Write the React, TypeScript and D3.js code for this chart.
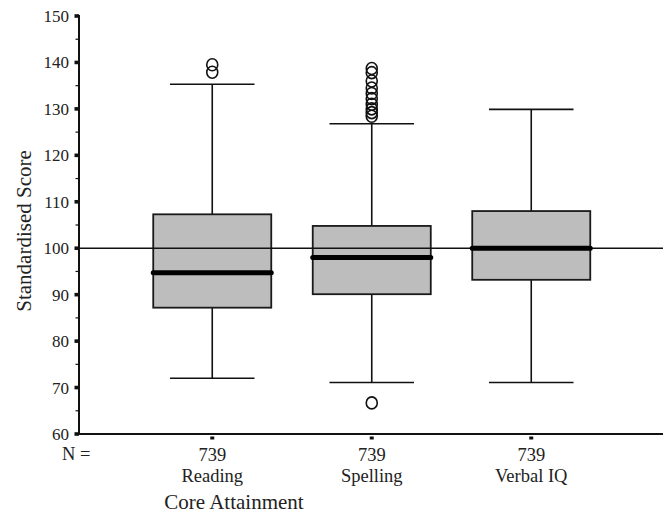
import React from "react";
import * as d3 from "d3";

const categories = ["Reading", "Spelling", "Verbal IQ"];
const counts = [739, 739, 739];
const q1 = [87.2, 90.1, 93.2];
const medians = [94.7, 98.0, 100.0];
const q3 = [107.3, 104.8, 108.0];
const whiskerLow = [72.0, 71.1, 71.1];
const whiskerHigh = [135.3, 126.8, 129.9];
const outliers: number[][] = [
  [137.9, 139.5],
  [66.7, 128.4, 129.2, 130.0, 131.0, 132.2, 133.3, 134.5, 136.0, 137.8, 138.7],
  [],
];
const yTicks = [60, 70, 80, 90, 100, 110, 120, 130, 140, 150];
const yMinorTicks = [65, 75, 85, 95, 105, 115, 125, 135, 145];
const referenceValue = 100;

const W = 666;
const H = 513;
const FONT = "'Liberation Serif', 'Times New Roman', serif";

export default function App() {
  const y = d3.scaleLinear().domain([60, 150]).range([434, 16]);
  const x = d3.scaleBand<string>().domain(categories).range([132.5, 611]);
  const bw = x.bandwidth();
  const boxW = bw * 0.74;
  const capW = bw * 0.53;
  const axisX = 79;
  const axisRight = 663;
  const axisY = y(60);

  return (
    <svg
      width={W}
      height={H}
      style={{ position: "absolute", left: 0, top: 0, background: "#fff" }}
      fontFamily={FONT}
    >
      {categories.map((c, i) => {
        const cx = (x(c) as number) + bw / 2;
        return (
          <g key={c}>
            {/* whiskers */}
            <line x1={cx} x2={cx} y1={y(q3[i])} y2={y(whiskerHigh[i])} stroke="#111" strokeWidth={1.6} />
            <line x1={cx} x2={cx} y1={y(q1[i])} y2={y(whiskerLow[i])} stroke="#111" strokeWidth={1.6} />
            <line x1={cx - capW / 2} x2={cx + capW / 2} y1={y(whiskerHigh[i])} y2={y(whiskerHigh[i])} stroke="#111" strokeWidth={1.6} />
            <line x1={cx - capW / 2} x2={cx + capW / 2} y1={y(whiskerLow[i])} y2={y(whiskerLow[i])} stroke="#111" strokeWidth={1.6} />
            {/* box */}
            <rect
              x={cx - boxW / 2}
              y={y(q3[i])}
              width={boxW}
              height={y(q1[i]) - y(q3[i])}
              fill="#bdbdbd"
              stroke="#1a1a1a"
              strokeWidth={1.8}
            />
            {/* outliers */}
            {outliers[i].map((v, k) => (
              <ellipse key={k} cx={cx} cy={y(v)} rx={5.5} ry={6} fill="none" stroke="#111" strokeWidth={1.6} />
            ))}
          </g>
        );
      })}

      {/* reference line */}
      <line x1={axisX} x2={axisRight} y1={y(referenceValue)} y2={y(referenceValue)} stroke="#111" strokeWidth={1.5} />

      {/* medians */}
      {categories.map((c, i) => {
        const cx = (x(c) as number) + bw / 2;
        return (
          <line
            key={c}
            x1={cx - boxW / 2}
            x2={cx + boxW / 2}
            y1={y(medians[i])}
            y2={y(medians[i])}
            stroke="#000"
            strokeWidth={5}
            strokeLinecap="round"
          />
        );
      })}

      {/* y axis */}
      <line x1={axisX} x2={axisX} y1={y(150) - 1} y2={axisY + 1} stroke="#111" strokeWidth={2} />
      {yTicks.map((t) => (
        <g key={t}>
          <rect x={axisX - 4.5} y={y(t) - 1.8} width={4.5} height={3.6} fill="#111" />
          <text x={69} y={y(t) + 6} textAnchor="end" fontSize={17} fill="#222">
            {t}
          </text>
        </g>
      ))}
      {yMinorTicks.map((t) => (
        <line key={t} x1={axisX - 3.5} x2={axisX} y1={y(t)} y2={y(t)} stroke="#111" strokeWidth={1.2} />
      ))}

      {/* x axis */}
      <line x1={axisX} x2={axisRight} y1={axisY} y2={axisY} stroke="#111" strokeWidth={2} />
      {categories.map((c, i) => {
        const cx = (x(c) as number) + bw / 2;
        return (
          <g key={c}>
            <rect x={cx - 2} y={axisY + 2.5} width={4} height={3} fill="#111" />
            <text x={cx} y={461} textAnchor="middle" fontSize={18.5} fill="#222">
              {counts[i]}
            </text>
            <text x={cx} y={481.5} textAnchor="middle" fontSize={18.5} fill="#222">
              {c}
            </text>
          </g>
        );
      })}
      <text x={62} y={460} fontSize={18.5} fill="#222">
        N =
      </text>

      {/* titles */}
      <text x={(axisX + axisRight) / 2 - 137} y={509} textAnchor="middle" fontSize={21} fill="#222">
        Core Attainment
      </text>
      <text
        transform={`translate(31, 231) rotate(-90)`}
        textAnchor="middle"
        fontSize={21}
        fill="#222"
      >
        Standardised Score
      </text>
    </svg>
  );
}
